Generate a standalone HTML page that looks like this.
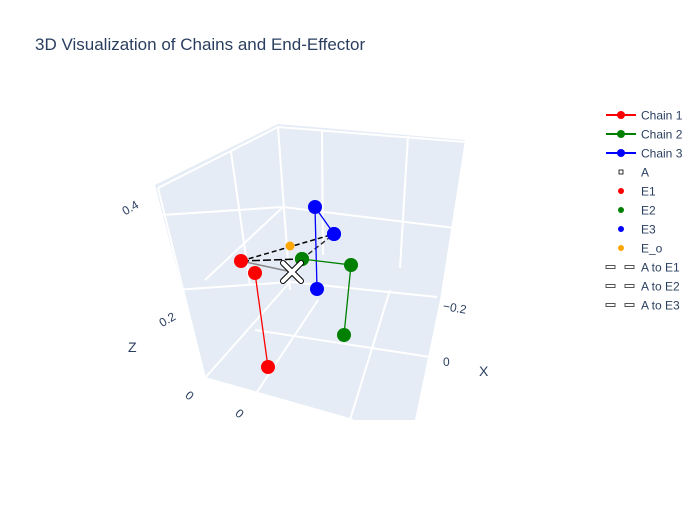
<!DOCTYPE html>
<html><head><meta charset="utf-8"><style>
body{margin:0;background:#fff;font-family:"Liberation Sans",sans-serif}
svg text{font-family:"Liberation Sans",sans-serif;fill:#2a3f5f}
</style></head><body>
<svg width="700" height="500" viewBox="0 0 700 500">
<rect width="700" height="500" fill="#fff"/>
<text x="35" y="50" font-size="17">3D Visualization of Chains and End-Effector</text>
<g>
<polygon points="155,185 278,124 465,140 440,300 415,420 353,420 205,378" fill="#e5ecf6"/>
<g stroke="#fff" stroke-width="2" fill="none">
<polyline points="158,188 205,378 353,420"/>
<polyline points="158,188 278,127 465,142"/>
<line x1="231" y1="152" x2="250" y2="285"/>
<line x1="278" y1="127" x2="290" y2="290"/>
<line x1="322" y1="130" x2="323" y2="255"/>
<line x1="408" y1="136" x2="400" y2="268"/>
<line x1="162" y1="215" x2="283" y2="207"/>
<line x1="283" y1="207" x2="455" y2="228"/>
<line x1="283" y1="207" x2="205" y2="280"/>
<line x1="175" y1="290" x2="290" y2="282"/>
<line x1="290" y1="282" x2="437" y2="297"/>
<line x1="255" y1="395" x2="318" y2="300"/>
<line x1="205" y1="378" x2="290" y2="282"/>
<line x1="255" y1="330" x2="430" y2="357"/>
<line x1="350" y1="420" x2="390" y2="290"/>
</g>
</g>
<g font-size="12">
<text x="122" y="212" transform="rotate(-30 130 208)">0.4</text>
<text x="158" y="324" transform="rotate(-30 166 318)">0.2</text>
<text x="186" y="400" transform="rotate(40 190 396)">0</text>
<text x="236" y="418" transform="rotate(40 240 414)">0</text>
<text x="443" y="311" transform="rotate(10 450 307)">−0.2</text>
<text x="443" y="366">0</text>
<text x="128" y="352" font-size="14">Z</text>
<text x="479" y="376" font-size="14">X</text>
</g>
<g id="marks"></g>
<g id="legend" font-size="12"></g>
</svg>
<script>
// data (x, z) with screen projection sx=300+500*x, sy=390-500*z
const chain1X=[-0.09,-0.064], chain1Z=[0.234,0.046];
const chain2X=[0.004,0.102,0.088], chain2Z=[0.262,0.25,0.11];
const chain3X=[0.068,0.03,0.034], chain3Z=[0.312,0.366,0.202];
const e1=[-0.118,0.258], e2=[0.004,0.262], e3=[0.068,0.312], eo=[-0.02,0.288], a=[-0.016,0.236];
function px(x){return 300+500*x} function pz(z){return 390-500*z}
const NS='http://www.w3.org/2000/svg';
const M=document.getElementById('marks');
function mk(t,at){const e=document.createElementNS(NS,t);for(const k in at)e.setAttribute(k,at[k]);M.appendChild(e);return e}
function seg(p,q,col,dash,nm){const l=mk('line',{x1:px(p[0]),y1:pz(p[1]),x2:px(q[0]),y2:pz(q[1]),stroke:col,'stroke-width':1.5,'stroke-dasharray':dash});

}
seg(a,e1,'#888','','a-to-e1-line');
seg(e1,e3,'#000','5,3','a-to-e3-line');
seg(e1,e2,'#000','8,3','a-to-e2-line');
seg(e2,e3,'#333','5,3','e2-e3-line');
function chain(X,Z,col,nm){let pts=X.map((x,i)=>px(x)+','+pz(Z[i])).join(' ');
const pl=mk('polyline',{points:pts,fill:'none',stroke:col,'stroke-width':1.3});


X.forEach((x,i)=>{const c=mk('circle',{cx:px(x),cy:pz(Z[i]),r:7,fill:col});

});}
chain(chain1X,chain1Z,'#ff0000','chain-1');
chain(chain3X,chain3Z,'#0000ff','chain-3');
chain(chain2X,chain2Z,'#008000','chain-2');
function pt(p,r,col,nm){const c=mk('circle',{cx:px(p[0]),cy:pz(p[1]),r:r,fill:col});

}
pt(e1,7,'#ff0000','e1-point');pt(e2,7,'#008000','e2-point');pt(e3,7,'#0000ff','e3-point');pt(eo,4.5,'#ffa500','e-o-point');
const ax=px(a[0]),ay=pz(a[1]);
const x1=mk('path',{d:`M${ax-9},${ay-9}L${ax+9},${ay+9}M${ax+9},${ay-9}L${ax-9},${ay+9}`,stroke:'#000','stroke-width':6,'stroke-linecap':'round'});


const x2=mk('path',{d:`M${ax-9},${ay-9}L${ax+9},${ay+9}M${ax+9},${ay-9}L${ax-9},${ay+9}`,stroke:'#fff','stroke-width':4,'stroke-linecap':'round'});


// legend
const legNames=['Chain 1','Chain 2','Chain 3','A','E1','E2','E3','E_o','A to E1','A to E2','A to E3'];
const legKinds=['line','line','line','x','dot','dot','dot','dot','dash','dash','dash'];
const legColors=['#ff0000','#008000','#0000ff','#000','#ff0000','#008000','#0000ff','#ffa500','#555','#555','#555'];
const L=document.getElementById('legend');
legNames.forEach((n,i)=>{const y=115+i*19;const g=document.createElementNS(NS,'g');


let h='';const c=legColors[i];
if(legKinds[i]=='line')h=`<line x1="606" x2="636" y1="${y}" y2="${y}" stroke="${c}" stroke-width="2"/><circle cx="621" cy="${y}" r="4" fill="${c}"/>`;
else if(legKinds[i]=='x')h=`<rect x="619" y="${y-2}" width="4" height="4" fill="#fff" stroke="#000" stroke-width="0.8"/>`;
else if(legKinds[i]=='dot')h=`<circle cx="621" cy="${y}" r="3" fill="${c}"/>`;
else h=`<rect x="606" y="${y-1.5}" width="9" height="3" fill="#fff" stroke="${c}"/><rect x="625" y="${y-1.5}" width="9" height="3" fill="#fff" stroke="${c}"/>`;
h+=`<text x="641" y="${y+4.5}">${n}</text>`;g.innerHTML=h;L.appendChild(g);});
</script>
</body></html>
